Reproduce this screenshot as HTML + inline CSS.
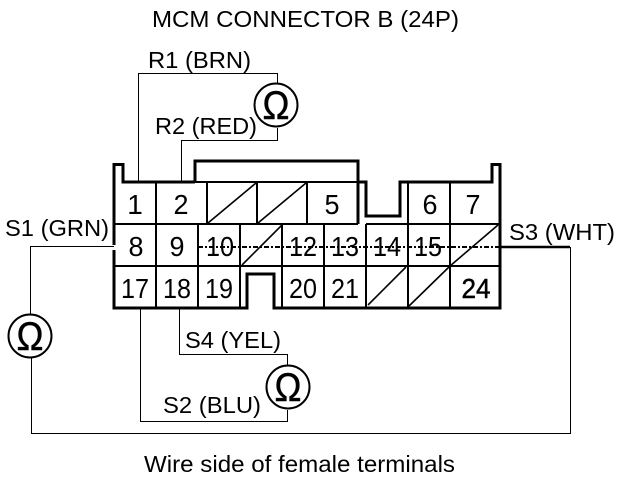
<!DOCTYPE html>
<html><head><meta charset="utf-8"><style>
html,body{margin:0;padding:0;background:#fff}
svg{display:block}
text{font-family:"Liberation Sans",sans-serif;fill:#000}
.l{font-size:23px}
.n{font-size:28px;text-anchor:middle}
.o{font-size:40px;text-anchor:middle;stroke:#000;stroke-width:.5px}
</style></head><body>
<svg width="640" height="480" viewBox="0 0 640 480" xmlns="http://www.w3.org/2000/svg">
<rect width="640" height="480" fill="#fff"/>
<!-- thin wires -->
<g fill="none" stroke="#000" stroke-width="1">
<path d="M138.5 182V73.5H277.5V84"/>
<path d="M181.5 182V140.5H277.5V128"/>
<path d="M179.5 308V354.5H287.5V365"/>
<path d="M140.5 308V421.5H287.5V410"/>
<path d="M114 246.5H30.5V314"/>
<path d="M31.5 358V433.5H570.5V247"/>
</g>
<!-- grid -->
<g fill="none" stroke="#000" stroke-width="2">
<path d="M114 224H358M366 224H500M114 266H500"/>
<path d="M156 182V308M207 182V224M257 182V224M307 182V224"/>
<path d="M198 224V308M240 224V308M282 224V308M324 224V308M366 224V308M408 182V308M450 182V308"/>
<path d="M195 182H366"/>
</g>
<g fill="none" stroke="#000" stroke-width="1.6">
<path d="M208 223L256 183M258 223L306 183M242 265L282 225M450 266L498 225M368 305L406 267M409 306L449 267"/>
</g>
<!-- outline -->
<g fill="none" stroke="#000" stroke-width="3">
<path d="M114 245V164.5H123V182H195"/>
<path d="M114 250V308H247V274H274V308H500V164.5H492V182H400V216H366V182H358"/>
<path d="M195 182V161H358V224"/>
</g>
<!-- horizontal strike -->
<path d="M198 247H500" stroke="#000" stroke-width="2" stroke-dasharray="5 2 2 2" fill="none"/>
<path d="M500 247H570" stroke="#000" stroke-width="2.4" fill="none"/>
<!-- meters -->
<g fill="none" stroke="#000" stroke-width="2">
<circle cx="276" cy="105" r="21.5"/>
<circle cx="288" cy="387" r="21.5"/>
<circle cx="30" cy="336" r="21.5"/>
</g>
<text class="o" x="276" y="119" textLength="27" lengthAdjust="spacingAndGlyphs">Ω</text>
<text class="o" x="288" y="401" textLength="27" lengthAdjust="spacingAndGlyphs">Ω</text>
<text class="o" x="30" y="350" textLength="27" lengthAdjust="spacingAndGlyphs">Ω</text>
<!-- labels -->
<text class="l" x="152" y="27" textLength="307" lengthAdjust="spacingAndGlyphs">MCM CONNECTOR B (24P)</text>
<text class="l" x="148" y="68" textLength="103" lengthAdjust="spacingAndGlyphs">R1 (BRN)</text>
<text class="l" x="155" y="134" textLength="102" lengthAdjust="spacingAndGlyphs">R2 (RED)</text>
<text class="l" x="5" y="236" textLength="104" lengthAdjust="spacingAndGlyphs">S1 (GRN)</text>
<text class="l" x="509" y="240" textLength="106" lengthAdjust="spacingAndGlyphs">S3 (WHT)</text>
<text class="l" x="185" y="348" textLength="96" lengthAdjust="spacingAndGlyphs">S4 (YEL)</text>
<text class="l" x="163" y="413" textLength="98" lengthAdjust="spacingAndGlyphs">S2 (BLU)</text>
<text class="l" x="144" y="472" textLength="311" lengthAdjust="spacingAndGlyphs">Wire side of female terminals</text>
<!-- numbers -->
<g lengthAdjust="spacingAndGlyphs">
<text class="n" x="135" y="214">1</text>
<text class="n" x="181" y="214" textLength="15" lengthAdjust="spacingAndGlyphs">2</text>
<text class="n" x="332" y="214" textLength="15" lengthAdjust="spacingAndGlyphs">5</text>
<text class="n" x="430" y="214" textLength="15" lengthAdjust="spacingAndGlyphs">6</text>
<text class="n" x="473" y="214" textLength="15" lengthAdjust="spacingAndGlyphs">7</text>
<text class="n" x="136" y="256" textLength="15" lengthAdjust="spacingAndGlyphs">8</text>
<text class="n" x="177" y="256" textLength="15" lengthAdjust="spacingAndGlyphs">9</text>
<text class="n" x="220" y="256" textLength="28" lengthAdjust="spacingAndGlyphs">10</text>
<text class="n" x="303" y="256" textLength="28" lengthAdjust="spacingAndGlyphs">12</text>
<text class="n" x="345" y="256" textLength="28" lengthAdjust="spacingAndGlyphs">13</text>
<text class="n" x="387" y="256" textLength="28" lengthAdjust="spacingAndGlyphs">14</text>
<text class="n" x="428" y="256" textLength="28" lengthAdjust="spacingAndGlyphs">15</text>
<text class="n" x="135" y="298" textLength="28" lengthAdjust="spacingAndGlyphs">17</text>
<text class="n" x="177" y="298" textLength="28" lengthAdjust="spacingAndGlyphs">18</text>
<text class="n" x="219" y="298" textLength="28" lengthAdjust="spacingAndGlyphs">19</text>
<text class="n" x="303" y="298" textLength="28" lengthAdjust="spacingAndGlyphs">20</text>
<text class="n" x="345" y="298" textLength="28" lengthAdjust="spacingAndGlyphs">21</text>
<text class="n" x="476" y="298" textLength="29" lengthAdjust="spacingAndGlyphs" stroke="#000" stroke-width=".5">24</text>
</g>
</svg>
</body></html>
